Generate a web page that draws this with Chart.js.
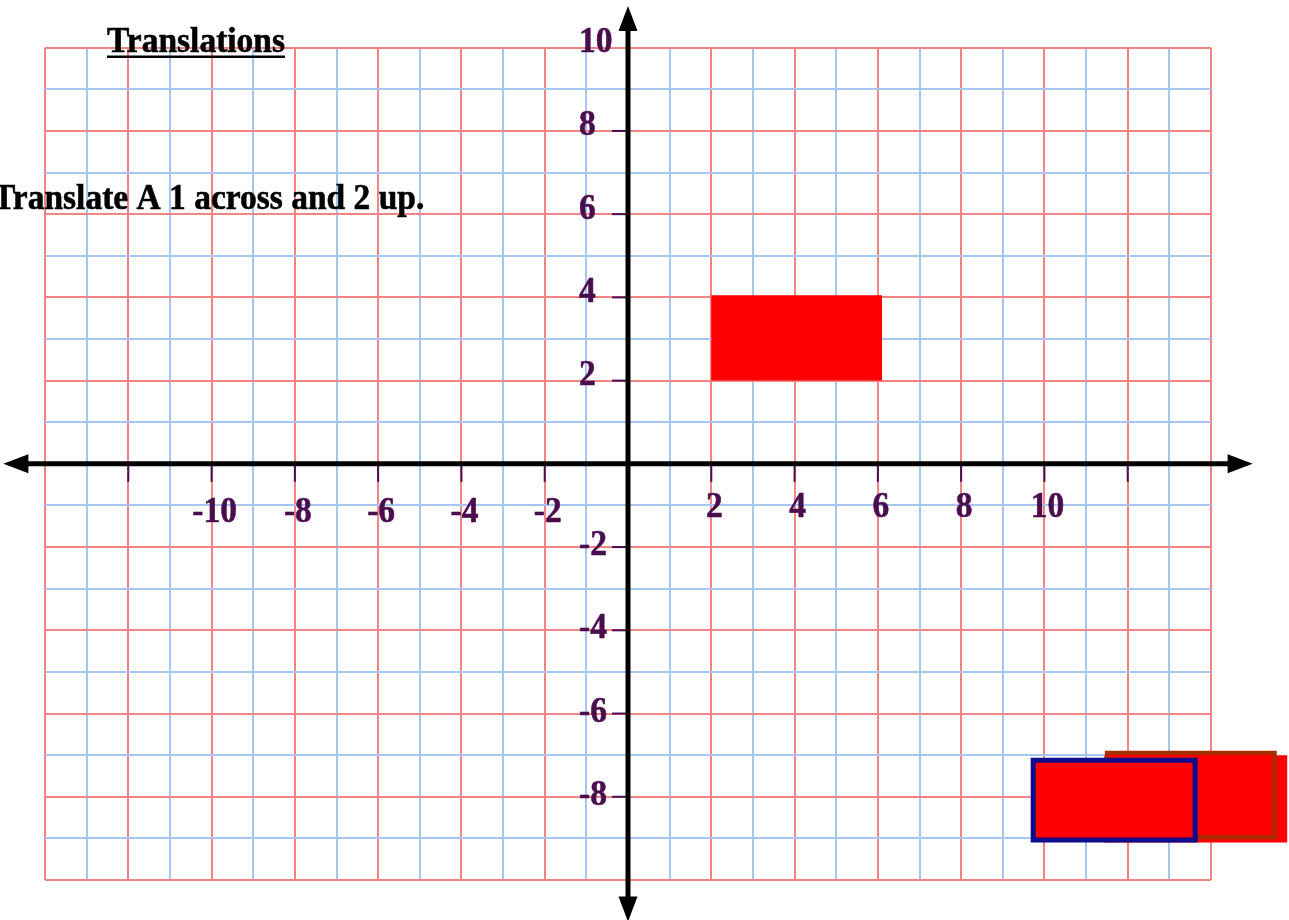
<!DOCTYPE html>
<html>
<head>
<meta charset="utf-8">
<title>Translations</title>
<script src="https://cdn.jsdelivr.net/npm/chart.js@4.4.1/dist/chart.umd.min.js"></script>
<style>
  html, body { margin: 0; padding: 0; background: #fff; overflow: hidden; }
  canvas { display: block; }
</style>
</head>
<body>
<canvas id="grid-chart" width="1289" height="920"></canvas>
<script>
const titleText = 'Translations';
const questionText = 'Translate A 1 across and 2 up.';

// grid extent and arrow tips, in grid units
const xRange = [-14, 14];
const yRange = [-10, 10];
const axisEnds = { x: 15, y: 11 };

const xLabelValues = [-10, -8, -6, -4, -2, 2, 4, 6, 8, 10];
const yLabelValues = [10, 8, 6, 4, 2, -2, -4, -6, -8];
const xTickMarks = [-12, -10, -8, -6, -4, -2, 2, 4, 6, 8, 10, 12];
const yTickMarks = [8, 6, 4, 2, -2, -4, -6, -8];

// shape A
const shapeAX = [2, 6.1, 6.1, 2, 2];
const shapeAY = [2, 2, 4.05, 4.05, 2];
// the shapes down in the bottom right
const backFillX = [11.44, 15.83, 15.83, 11.44, 11.44];
const backFillY = [-7, -7, -9.1, -9.1, -7];
const brownBoxX = [11.5, 15.53, 15.53, 11.5, 11.5];
const brownBoxY = [-6.94, -6.94, -8.97, -8.97, -6.94];
const blueBoxX = [9.73, 13.62, 13.62, 9.73, 9.73];
const blueBoxY = [-7.12, -7.12, -9.04, -9.04, -7.12];

const labelColor = '#4a0e4e';
const gridRed = '#f48484';
const gridBlue = '#a6c6f0';
const textFont = 'bold 36px "Liberation Serif", "Times New Roman", serif';
const textSqueeze = 0.93; // the original type is a little narrower and taller

function toPoints(xs, ys) {
    return xs.map((v, i) => ({ x: v, y: ys[i] }));
}

function shape(xs, ys, border, width, order) {
    return {
        data: toPoints(xs, ys),
        showLine: true,
        borderColor: border,
        borderWidth: width,
        borderJoinStyle: 'miter',
        borderCapStyle: 'square',
        pointRadius: 0,
        pointHoverRadius: 0,
        tension: 0,
        fill: false,
        clip: false,
        shapeFill: '#ff0000',
        order: order
    };
}

// fills each closed shape just before its outline is drawn, no clipping to the grid
const shapeFillPlugin = {
    id: 'shapeFill',
    beforeDatasetDraw(chart, args) {
        const ds = chart.data.datasets[args.index];
        if (!ds.shapeFill) return;
        const pts = args.meta.data;
        const ctx = chart.ctx;
        ctx.save();
        ctx.fillStyle = ds.shapeFill;
        ctx.beginPath();
        pts.forEach((p, i) => i === 0 ? ctx.moveTo(p.x, p.y) : ctx.lineTo(p.x, p.y));
        ctx.closePath();
        ctx.fill();
        ctx.restore();
    }
};

function arrowHead(ctx, tx, ty, dx, dy) {
    const len = 25, half = 9.5;
    const bx = tx - dx * len, by = ty - dy * len;
    ctx.beginPath();
    ctx.moveTo(tx, ty);
    ctx.lineTo(bx - dy * half, by + dx * half);
    ctx.lineTo(bx + dy * half, by - dx * half);
    ctx.closePath();
    ctx.fill();
}

function drawText(ctx, text, px, py, align) {
    ctx.save();
    ctx.translate(px, py);
    ctx.scale(textSqueeze, 1);
    ctx.textAlign = align;
    ctx.strokeStyle = ctx.fillStyle;
    ctx.lineWidth = 0.6;
    ctx.fillText(text, 0, 0);
    ctx.strokeText(text, 0, 0);
    ctx.restore();
}

const axesPlugin = {
    id: 'axesPlugin',
    afterDatasetsDraw(chart) {
        const { ctx, scales: { x, y } } = chart;
        const x0 = x.getPixelForValue(0);
        const y0 = y.getPixelForValue(0);
        const left = x.getPixelForValue(-axisEnds.x);
        const right = x.getPixelForValue(axisEnds.x);
        const top = y.getPixelForValue(axisEnds.y);
        const bottom = y.getPixelForValue(-axisEnds.y);

        ctx.save();
        // small tick marks
        ctx.strokeStyle = labelColor;
        ctx.lineWidth = 2;
        xTickMarks.forEach(v => {
            const px = x.getPixelForValue(v);
            ctx.beginPath();
            ctx.moveTo(px, y0);
            ctx.lineTo(px, y0 + 18);
            ctx.stroke();
        });
        yTickMarks.forEach(v => {
            const py = y.getPixelForValue(v);
            ctx.beginPath();
            ctx.moveTo(x0 - 16, py);
            ctx.lineTo(x0 - 2, py);
            ctx.stroke();
        });

        // the two axes with arrows
        ctx.strokeStyle = '#000';
        ctx.fillStyle = '#000';
        ctx.lineWidth = 5;
        ctx.beginPath();
        ctx.moveTo(left + 20, y0);
        ctx.lineTo(right - 20, y0);
        ctx.moveTo(x0, top + 20);
        ctx.lineTo(x0, bottom - 20);
        ctx.stroke();
        arrowHead(ctx, left, y0, -1, 0);
        arrowHead(ctx, right, y0, 1, 0);
        arrowHead(ctx, x0, top, 0, -1);
        arrowHead(ctx, x0, bottom, 0, 1);

        // tick labels
        ctx.font = textFont;
        ctx.fillStyle = labelColor;
        ctx.textBaseline = 'alphabetic';
        xLabelValues.forEach(v => {
            drawText(ctx, String(v), x.getPixelForValue(v) + 3, y0 + (v < 0 ? 58 : 53), 'center');
        });
        yLabelValues.forEach(v => {
            drawText(ctx, String(v), x0 - 49, y.getPixelForValue(v) + (v > 0 ? 4.5 : 8), 'left');
        });
        ctx.restore();
    },
    afterDraw(chart) {
        const ctx = chart.ctx;
        ctx.save();
        ctx.font = textFont;
        ctx.fillStyle = '#000';
        ctx.textBaseline = 'alphabetic';
        drawText(ctx, titleText, 107, 52, 'left');
        const w = ctx.measureText(titleText).width * textSqueeze;
        ctx.fillRect(107, 55.5, w, 2.5);
        drawText(ctx, questionText, -7, 209, 'left');
        ctx.restore();
    }
};

const ctxGrid = document.getElementById('grid-chart').getContext('2d');

const gridChart = new Chart(ctxGrid, {
    type: 'scatter',
    data: {
        datasets: [
            shape(blueBoxX, blueBoxY, '#0c0c8c', 5, 1),
            shape(brownBoxX, brownBoxY, '#a32e00', 4, 2),
            shape(backFillX, backFillY, 'rgba(0,0,0,0)', 1, 3),
            shape(shapeAX, shapeAY, 'rgba(0,0,0,0)', 1, 4)
        ]
    },
    options: {
        responsive: false,
        animation: false,
        devicePixelRatio: 1,
        events: [],
        layout: {
            padding: { left: 45, right: 78, top: 47.7, bottom: 40 }
        },
        plugins: {
            legend: { display: false },
            tooltip: { enabled: false },
            title: { display: false }
        },
        scales: {
            x: {
                type: 'linear',
                min: xRange[0],
                max: xRange[1],
                ticks: { display: false, stepSize: 1 },
                border: { display: false },
                grid: {
                    drawTicks: false,
                    lineWidth: 2,
                    color: c => (c.tick && c.tick.value % 2 === 0) ? gridRed : gridBlue
                }
            },
            y: {
                type: 'linear',
                min: yRange[0],
                max: yRange[1],
                ticks: { display: false, stepSize: 1 },
                border: { display: false },
                grid: {
                    drawTicks: false,
                    lineWidth: 2,
                    color: c => (c.tick && c.tick.value % 2 === 0) ? gridRed : gridBlue
                }
            }
        }
    },
    plugins: [shapeFillPlugin, axesPlugin]
});
</script>
</body>
</html>
